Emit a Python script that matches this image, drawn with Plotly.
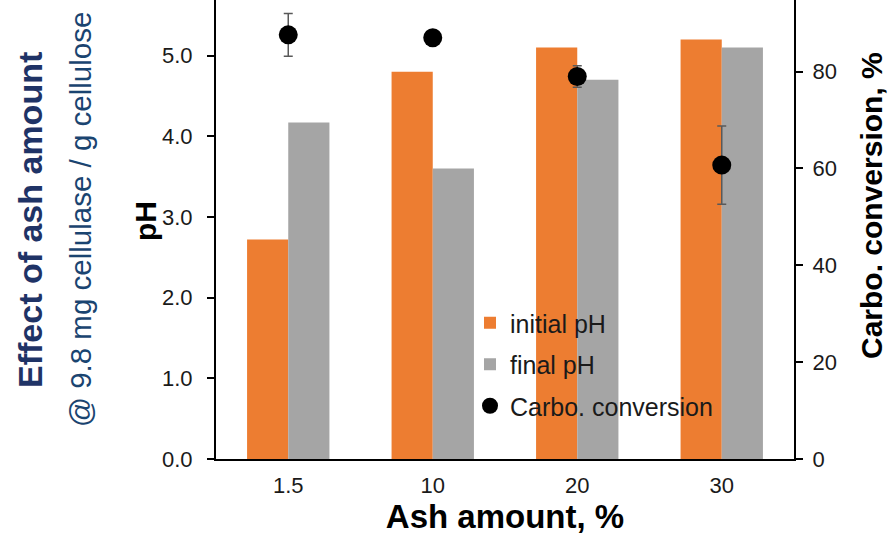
import plotly.graph_objects as go

categories = ["1.5", "10", "20", "30"]
initial_ph = [2.72, 4.80, 5.10, 5.20]
final_ph = [4.17, 3.60, 4.70, 5.10]
carbo_conv = [87.6, 87.0, 79.0, 60.7]
carbo_err = [4.4, 0.8, 2.2, 8.1]

FONT = "Liberation Sans, Arial, sans-serif"
W, H = 888, 536
L, R, T, B = 216, 94, 0, 77
pw = W - L - R
ph = H - T - B

def px_to_paper_x(px):
    return (px - L) / pw

def px_to_paper_y(py):
    return (H - B - py) / ph

fig = go.Figure()
fig.add_trace(go.Bar(x=categories, y=initial_ph, name="initial pH",
                     marker=dict(color="#ED7D31", line=dict(width=0)),
                     legendgroup="a"))
fig.add_trace(go.Bar(x=categories, y=final_ph, name="final pH",
                     marker=dict(color="#A5A5A5", line=dict(width=0)),
                     legendgroup="b"))
fig.add_trace(go.Scatter(x=categories, y=carbo_conv, name="Carbo. conversion",
                         mode="markers", yaxis="y2",
                         marker=dict(color="black", size=19),
                         error_y=dict(type="data", array=carbo_err, visible=True,
                                      color="#595959", thickness=1.5, width=4.5),
                         legendgroup="c"))

fig.update_layout(
    width=W, height=H,
    margin=dict(l=L, r=R, t=T, b=B),
    paper_bgcolor="white", plot_bgcolor="white",
    font=dict(family=FONT, size=22, color="#1a1a1a"),
    barmode="group", bargap=0.43, bargroupgap=0,
    showlegend=True,
    legend=dict(x=px_to_paper_x(470), y=px_to_paper_y(300), xanchor="left", yanchor="top",
                bgcolor="rgba(0,0,0,0)", font=dict(size=25, color="#1a1a1a"),
                traceorder="grouped", tracegroupgap=6, itemwidth=30),
    xaxis=dict(type="category", showline=True, linecolor="black", linewidth=2,
               ticks="", tickfont=dict(size=22), showgrid=False, automargin=False,
               ticklabelstandoff=6,
               title=dict(text="<b>Ash amount, %</b>", font=dict(size=33, color="black"), standoff=0)),
    yaxis=dict(range=[0, 5.69], dtick=1, tickformat=".1f", showline=True, linecolor="black",
               linewidth=2, ticks="outside", ticklen=7, tickwidth=2, tickcolor="black",
               ticklabelstandoff=10,
               showgrid=False, zeroline=False, automargin=False),
    yaxis2=dict(range=[0, 94.8], dtick=20, overlaying="y", side="right", showline=True,
                linecolor="black", linewidth=2, ticks="outside", ticklen=7, tickwidth=2,
                tickcolor="black", ticklabelstandoff=5,
                showgrid=False, zeroline=False, automargin=False),
)

# axis titles placed where the reference has them
fig.add_annotation(text="<b>pH</b>", textangle=-90, xref="paper", yref="paper",
                   x=px_to_paper_x(145), y=px_to_paper_y(221), xanchor="center", yanchor="middle",
                   showarrow=False, font=dict(size=30, color="black", family=FONT))
fig.add_annotation(text="<b>Carbo. conversion, %</b>", textangle=-90, xref="paper", yref="paper",
                   x=px_to_paper_x(871), y=px_to_paper_y(206), xanchor="center", yanchor="middle",
                   showarrow=False, font=dict(size=30, color="black", family=FONT))

fig.add_annotation(text="<b>Effect of ash amount</b>", textangle=-90,
                   xref="paper", yref="paper", x=px_to_paper_x(30), y=px_to_paper_y(220),
                   xanchor="center", yanchor="middle", showarrow=False,
                   font=dict(size=34, color="#1F3366", family=FONT))
fig.add_annotation(text="@ 9.8 mg cellulase / g cellulose", textangle=-90,
                   xref="paper", yref="paper", x=px_to_paper_x(80), y=px_to_paper_y(220),
                   xanchor="center", yanchor="middle", showarrow=False,
                   font=dict(size=29.5, color="#1A4470", family=FONT))

fig.write_html("out.html", config={"displayModeBar": False},
               post_script="document.body.style.margin='0px';")
